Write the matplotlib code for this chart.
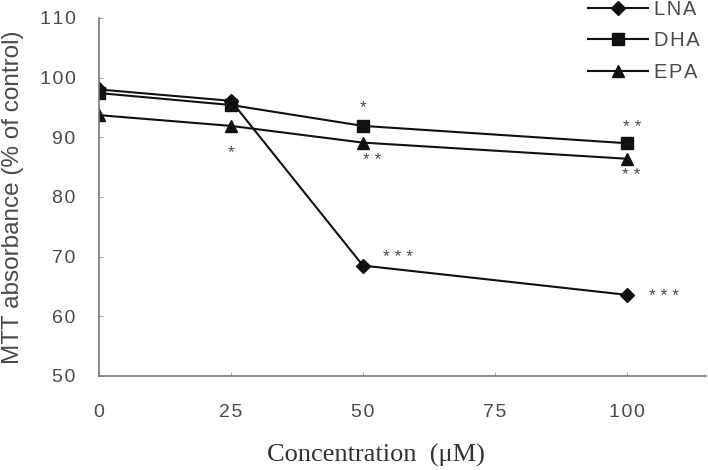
import numpy as np
import matplotlib.pyplot as plt

concentration = [0, 25, 50, 100]
lna = [98.0, 96.1, 68.5, 63.6]
dha = [97.4, 95.4, 91.9, 89.0]
epa = [93.7, 91.9, 89.1, 86.4]

series_names = ["LNA", "DHA", "EPA"]
series_markers = ["D", "s", "^"]
x_ticks = [0, 25, 50, 75, 100]
y_ticks = [50, 60, 70, 80, 90, 100, 110]

# significance marks: (series index, point index, label, dx pt, dy pt)
sig_marks = [
    (2, 1, "*", 0, -19),
    (1, 2, "*", 0, 13),
    (2, 2, "* *", 7, -13),
    (1, 3, "* *", 4, 11),
    (2, 3, "* *", 3, -12),
    (0, 2, "* * *", 25, 6),
    (0, 3, "* * *", 27, -1),
]

TEXT_GRAY = "#4a4a4a"
HS = "\u200a"
plt.rcParams['font.family'] = ['Liberation Sans', 'DejaVu Sans']


def spaced(s):
    return HS.join(s)


fig = plt.figure(figsize=(7.08, 4.70), dpi=100)
ax = fig.add_axes([0.14, 0.2, 0.857, 0.762])

all_series = [lna, dha, epa]
sizes = [7, 9, 9]
for vals, name, mk, ms in zip(all_series, series_names, series_markers, sizes):
    ax.plot(concentration, vals, color="#111111", lw=1.5, marker=mk, ms=ms,
            markerfacecolor="#111111", markeredgecolor="#111111", label=spaced(name))

for si, pi, lab, dx, dy in sig_marks:
    ax.annotate(lab, (concentration[pi], all_series[si][pi]), xytext=(dx, dy),
                textcoords="offset points", ha="center", va="center",
                fontsize=12.5, color=TEXT_GRAY)

ax.set_xlim(0, 115)
ax.set_ylim(50, 110)
ax.set_xticks(x_ticks)
ax.set_xticklabels([spaced(str(v)) for v in x_ticks])
ax.set_yticks(y_ticks)
ax.set_yticklabels([spaced(str(v)) for v in y_ticks])
ax.tick_params(direction="in", length=3, width=0.6, colors="#999999",
               labelcolor=TEXT_GRAY, labelsize=14)
ax.tick_params(axis="x", pad=20)
ax.tick_params(axis="y", pad=17)
for s in ["top", "right"]:
    ax.spines[s].set_visible(False)
for s in ["left", "bottom"]:
    ax.spines[s].set_color("#777777")
    ax.spines[s].set_linewidth(1.2)

ax.set_ylabel("MTT absorbance (% of control)", fontsize=17.5, color=TEXT_GRAY)
ax.yaxis.set_label_coords(-0.124, 0.5)
ax.set_xlabel("Concentration  (\u03bcM)", fontsize=19, family="Liberation Serif",
              color="#333333")
ax.xaxis.set_label_coords(0.456, -0.19)

leg = fig.legend(loc="upper right", bbox_to_anchor=(1.0, 1.018), frameon=False,
                 fontsize=14.5, handlelength=3.0, labelspacing=0.62,
                 handletextpad=0.3, borderaxespad=0)
for t in leg.get_texts():
    t.set_color(TEXT_GRAY)

fig.savefig("out.png", dpi=100)
